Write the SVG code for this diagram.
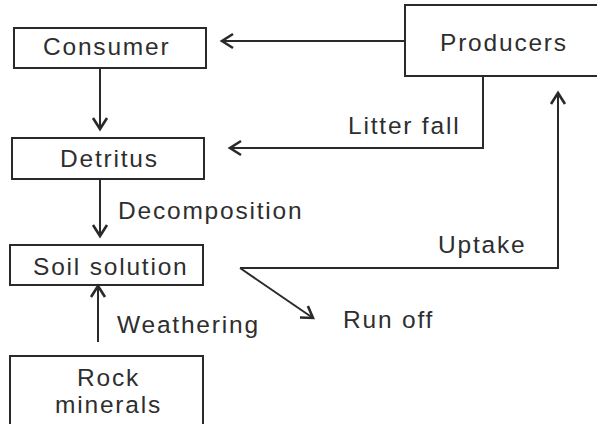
<svg xmlns="http://www.w3.org/2000/svg" width="597" height="424" viewBox="0 0 597 424">
  <defs>
    <style>
      .box { fill: #fff; stroke: #2a2a2a; stroke-width: 2; }
      .lbl { font-family: "Liberation Sans", Arial, sans-serif; font-size: 24.5px; fill: #2e2e2e; letter-spacing: 1.8px; }
      .edge { fill: none; stroke: #2a2a2a; stroke-width: 2; }
    </style>
    <marker id="arrow" markerUnits="userSpaceOnUse" markerWidth="24" markerHeight="24" viewBox="-14 -12 16 24" refX="0" refY="0" orient="auto">
      <path d="M -11 -7 L 0 0 L -11 7" fill="none" stroke="#2a2a2a" stroke-width="2.6" stroke-linejoin="miter"/>
    </marker>
  </defs>
  <rect width="597" height="424" fill="#fff"/>

  <g id="consumer">
    <rect class="box" x="14" y="28" width="192" height="40"/>
    <text class="lbl" x="43" y="55">Consumer</text>
  </g>
  <g id="producers">
    <rect class="box" x="405" y="5" width="200" height="71"/>
    <text class="lbl" x="440" y="51">Producers</text>
  </g>
  <g id="detritus">
    <rect class="box" x="12" y="138" width="192" height="41"/>
    <text class="lbl" x="60" y="167">Detritus</text>
  </g>
  <g id="soil-solution">
    <rect class="box" x="10" y="245" width="193" height="40"/>
    <text class="lbl" x="33" y="275">Soil solution</text>
  </g>
  <g id="rock-minerals">
    <rect class="box" x="10" y="356" width="193" height="75"/>
    <text class="lbl" x="77" y="386">Rock</text>
    <text class="lbl" x="55" y="413">minerals</text>
  </g>

  <g id="connectors">
    <line class="edge" x1="405" y1="41" x2="222" y2="41" marker-end="url(#arrow)"/>
    <line class="edge" x1="100" y1="68" x2="100" y2="129" marker-end="url(#arrow)"/>
    <polyline class="edge" points="483,76 483,148 230,148" marker-end="url(#arrow)"/>
    <line class="edge" x1="100" y1="179" x2="100" y2="236" marker-end="url(#arrow)"/>
    <line class="edge" x1="98" y1="342" x2="98" y2="286" marker-end="url(#arrow)"/>
    <polyline class="edge" points="240,268 558,268 558,93" marker-end="url(#arrow)"/>
    <line class="edge" x1="240" y1="268" x2="313" y2="318" marker-end="url(#arrow)"/>
  </g>

  <g id="edge-labels">
    <text class="lbl" x="348" y="134">Litter fall</text>
    <text class="lbl" x="118" y="219">Decomposition</text>
    <text class="lbl" x="438" y="253">Uptake</text>
    <text class="lbl" x="343" y="328">Run off</text>
    <text class="lbl" x="117" y="333">Weathering</text>
  </g>
</svg>
